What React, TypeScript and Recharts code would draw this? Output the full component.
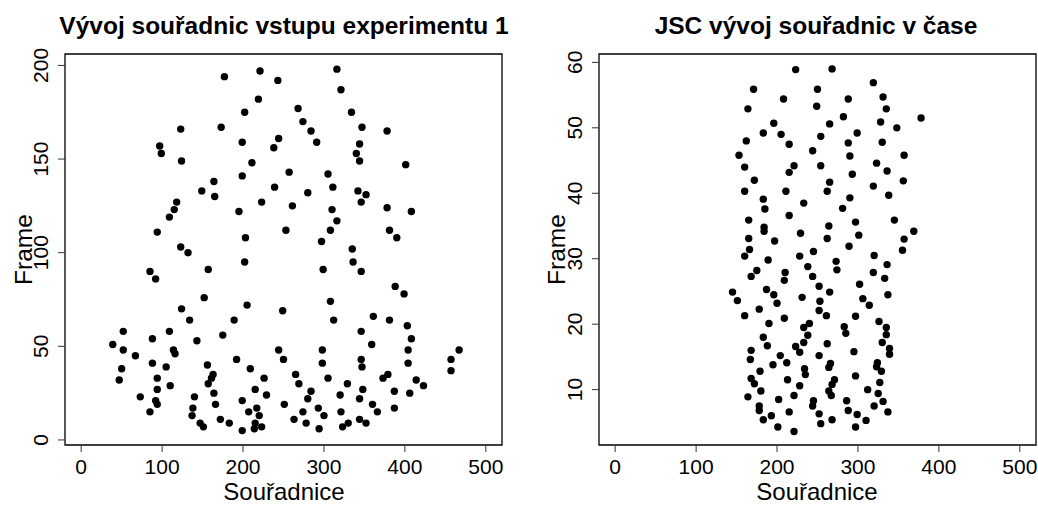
import { ScatterChart, Scatter, XAxis, YAxis, ReferenceArea } from 'recharts';

const xTicks = [0, 100, 200, 300, 400, 500];
const leftYTicks = [0, 50, 100, 150, 200];
const rightYTicks = [10, 20, 30, 40, 50, 60];

// Vývoj souřadnic vstupu experimentu 1
const leftX = [
  177, 221, 219, 202, 173, 123, 97, 99, 124, 199, 211, 199, 164, 149, 165, 118, 115, 109, 195, 223, 94, 203, 123, 132,
  243, 316, 321, 268, 334, 274, 284, 291, 347, 378, 244, 238, 344, 340, 344, 401, 257, 305, 311, 239, 280, 342, 352, 346,
  261, 310, 378, 408, 316, 253, 308, 381, 390, 297, 335,
  202, 157, 85, 92, 152, 205, 124, 134, 189, 175, 52, 109, 143, 88, 39, 52, 114, 116, 67, 192, 88, 156, 105, 50, 209,
  163, 161, 226, 47, 94, 157, 110, 94, 215, 164, 229, 140, 73, 92, 199, 94, 166, 138, 217, 85, 207, 137, 220, 172, 147,
  183, 215, 151, 223, 214, 199,
  336, 299, 346, 388, 399, 249, 308, 312, 361, 381, 346, 403, 408, 359, 244, 298, 404, 467, 250, 298, 346, 347, 404, 457,
  457, 265, 305, 379, 373, 269, 329, 414, 423, 284, 348, 387, 320, 406, 280, 344, 251, 360, 293, 387, 274, 321, 366, 300,
  263, 344, 278, 330, 352, 323, 294,
];
const leftY = [
  194, 197, 182, 175, 167, 166, 157, 153, 149, 159, 148, 141, 138, 133, 130, 127, 123, 119, 122, 127, 111, 108, 103, 100,
  192, 198, 187, 177, 175, 170, 165, 159, 167, 165, 161, 156, 158, 153, 149, 147, 143, 142, 135, 135, 132, 133, 131, 127,
  125, 123, 124, 122, 117, 112, 112, 112, 108, 106, 102,
  95, 91, 90, 86, 76, 72, 70, 64, 64, 56, 58, 58, 53, 54, 51, 48, 48, 46, 45, 43, 41, 40, 39, 38, 38,
  35, 33, 33, 32, 33, 30, 29, 27, 27, 25, 24, 23, 23, 21, 21, 19, 19, 17, 17, 15, 15, 13, 13, 11, 9,
  9, 9, 7, 7, 6, 5,
  95, 91, 90, 82, 78, 69, 74, 64, 66, 64, 58, 61, 54, 51, 48, 48, 48, 48, 43, 41, 43, 39, 41, 43,
  37, 35, 33, 35, 33, 30, 30, 32, 29, 26, 27, 26, 24, 25, 22, 22, 19, 19, 17, 17, 15, 15, 15, 13,
  11, 11, 9, 9, 9, 7, 6,
];

// JSC vývoj souřadnic v čase
const rightX = [
  171, 164, 162, 183, 196, 153, 160, 172, 160, 183, 185, 165, 184, 184, 165, 197, 166, 160, 189,
  223, 268, 319, 250, 208, 288, 331, 249, 335, 282, 378, 265, 328, 348, 205, 254, 299, 215, 288, 330, 244, 290, 357,
  221, 215, 254, 323, 336, 293, 265, 356, 262, 319, 211, 338, 290, 233, 281, 215, 345, 297, 264, 369, 229, 301, 262,
  357, 289, 245, 355, 228, 320, 273, 336,
  175, 168, 145, 151, 187, 196, 200, 178, 160, 190, 183, 188, 168, 167, 204, 195, 179, 168, 172, 180, 164, 202, 178,
  178, 193, 183, 201,
  238, 274, 210, 209, 244, 319, 333, 302, 252, 265, 337, 231, 306, 253, 314, 252, 261, 209, 297, 326, 240, 233, 283,
  335, 238, 285, 335, 233, 262, 330, 223, 228, 295, 339, 339, 252, 212, 266, 264, 324, 323, 234, 329, 235, 297, 213,
  271, 228, 268, 327, 264, 312, 267, 325, 221, 245, 286, 244, 331, 320, 215, 288, 337, 252, 299, 268, 310, 254, 297,
  221,
];
const rightY = [
  55.9, 52.9, 48, 49.2, 50.7, 45.8, 44, 42, 40.3, 39.1, 37.6, 35.9, 34.8, 34.2, 33.1, 32.7, 31.4, 30.4, 29.8,
  58.9, 59, 56.9, 55.9, 54.4, 54.4, 54.7, 53.3, 52.9, 51.7, 51.5, 50.6, 50.9, 50, 49, 48.7, 49.2, 47.5, 47.7, 47.8,
  46.5, 45.7, 45.8, 44.2, 43.2, 44.2, 44.6, 43.4, 42.9, 41.7, 41.9, 40.3, 41.1, 40.3, 39.7, 39.3, 38.5, 37.7, 36.6,
  35.9, 35.6, 35, 34.2, 33.9, 33.6, 33.1, 33, 31.9, 31.1, 31.3, 30.4, 30.5, 29.6, 29.1,
  28.2, 27.3, 24.9, 23.6, 25.3, 24.5, 23.2, 22.3, 21.3, 20.1, 18, 16.7, 16, 14.6, 15.2, 13.8, 12.8, 11.7, 10.9, 9.8,
  8.9, 8.5, 7.5, 6.8, 6, 5.4, 4.3,
  28.8, 28.3, 27.9, 26.7, 27.3, 27.9, 27, 26.1, 25.8, 24.9, 24.5, 24.1, 23.9, 23.5, 22.9, 22.1, 21.3, 20.9, 21.2,
  20.4, 20.1, 19.5, 19.6, 19.5, 18.3, 18.6, 18.4, 17.2, 17, 17.2, 16.6, 15.7, 15.8, 16.3, 15.4, 15.2, 14.1, 14, 13.4,
  14.1, 13.5, 13.2, 12.8, 12.3, 12.1, 11.5, 11.5, 10.6, 10.8, 11.1, 9.8, 10, 9.1, 9.4, 9.1, 8.3, 8.3, 7.5, 8.2, 7.5,
  6.6, 6.8, 6.6, 6.3, 6.2, 5.4, 5.3, 4.8, 4.3, 3.6,
];

const leftData = leftX.map((x, i) => ({ x, y: leftY[i] }));
const rightData = rightX.map((x, i) => ({ x, y: rightY[i] }));

const FONT = '"Liberation Sans", Arial, Helvetica, sans-serif';

const XTick = (props: any) => {
  const { x, y, payload } = props;
  return (
    <text x={x} y={y} dy={20} textAnchor="middle" fontSize={21} fontFamily={FONT} fill="#000">
      {payload.value}
    </text>
  );
};

const YTick = (props: any) => {
  const { x, y, payload } = props;
  return (
    <text
      transform={`translate(${x - 8},${y}) rotate(-90)`}
      textAnchor="middle"
      fontSize={21}
      fontFamily={FONT}
      fill="#000"
    >
      {payload.value}
    </text>
  );
};

const Dot = (props: any) => <circle cx={props.cx} cy={props.cy} r={3.7} fill="#000" />;

function Panel({ data, yDomain, yTicks, width }: any) {
  return (
    <ScatterChart width={width} height={506} margin={{ top: 54, right: width - 502, bottom: 11, left: 5 }}>
      <XAxis
        type="number"
        dataKey="x"
        domain={[-20, 520]}
        ticks={xTicks}
        interval={0}
        allowDataOverflow
        axisLine={false}
        tickSize={7}
        tickLine={{ stroke: '#333' }}
        tick={XTick}
        height={50}
      />
      <YAxis
        type="number"
        dataKey="y"
        domain={yDomain}
        ticks={yTicks}
        interval={0}
        allowDataOverflow
        axisLine={false}
        tickSize={7}
        tickLine={{ stroke: '#333' }}
        tick={YTick}
        width={60}
      />
      <ReferenceArea
        x1={-20}
        x2={520}
        y1={yDomain[0]}
        y2={yDomain[1]}
        fill="none"
        fillOpacity={0}
        stroke="#000"
        strokeWidth={1.3}
        ifOverflow="visible"
      />
      <Scatter data={data} shape={Dot} isAnimationActive={false} />
    </ScatterChart>
  );
}

export default function App() {
  return (
    <div style={{ position: 'absolute', left: 0, top: 0, width: 1038, height: 506, background: '#fff', overflow: 'hidden' }}>
      <div style={{ position: 'absolute', left: 0, top: 0 }}>
        <Panel data={leftData} yDomain={[-2.7, 206.1]} yTicks={leftYTicks} width={520} />
      </div>
      <div style={{ position: 'absolute', left: 534, top: 0 }}>
        <Panel data={rightData} yDomain={[1.54, 61.28]} yTicks={rightYTicks} width={504} />
      </div>
      <svg width={1038} height={506} style={{ position: 'absolute', left: 0, top: 0, pointerEvents: 'none' }}>
        <g fontFamily={FONT} fill="#000">
          <text x={284} y={34} textAnchor="middle" fontSize={24.5} fontWeight="bold">
            Vývoj souřadnic vstupu experimentu 1
          </text>
          <text x={816} y={34} textAnchor="middle" fontSize={24.5} fontWeight="bold">
            JSC vývoj souřadnic v čase
          </text>
          <text x={284} y={500} textAnchor="middle" fontSize={24}>
            Souřadnice
          </text>
          <text x={817} y={500} textAnchor="middle" fontSize={24}>
            Souřadnice
          </text>
          <text transform="translate(31.5,249.5) rotate(-90)" textAnchor="middle" fontSize={24.5}>
            Frame
          </text>
          <text transform="translate(565,249.5) rotate(-90)" textAnchor="middle" fontSize={24.5}>
            Frame
          </text>
        </g>
      </svg>
    </div>
  );
}
